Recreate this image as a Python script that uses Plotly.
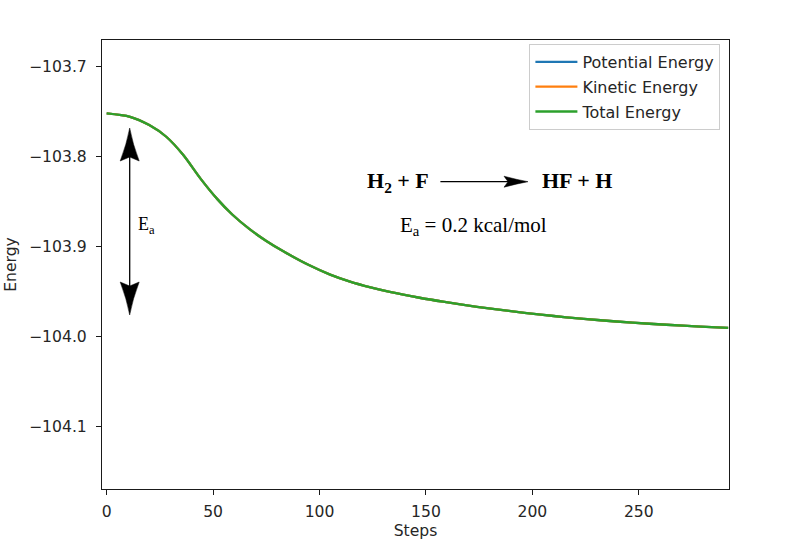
import plotly.graph_objects as go

# ---- data ----
steps = [0, 11, 20, 28, 36, 44, 52, 59, 67, 75, 83, 95, 105, 114, 124, 133, 147,
         158, 174, 189, 204, 216, 232, 247, 263, 279, 292]
total_energy = [-103.7518, -103.7556, -103.7648, -103.7778, -103.7981, -103.8240,
                -103.8471, -103.8642, -103.8802, -103.8936, -103.9051, -103.9204,
                -103.9310, -103.9385, -103.9452, -103.9502, -103.9567, -103.9611,
                -103.9668, -103.9714, -103.9754, -103.9784, -103.9817, -103.9844,
                -103.9867, -103.9887, -103.9901]
# potential and kinetic traces are completely hidden under the total-energy curve
potential_energy = total_energy
kinetic_energy = total_energy
series_names = ["Potential Energy", "Kinetic Energy", "Total Energy"]
series_colors = ["#1f77b4", "#ff7f0e", "#2ca02c"]
x_ticks = [0, 50, 100, 150, 200, 250]
y_ticks = [-104.1, -104.0, -103.9, -103.8, -103.7]

W, H = 800, 545
L, R, T, B = 102.3, 729.3, 40, 489


def px(x):
    return (x - L) / (R - L)


def py(y):
    return (B - y) / (B - T)


fig = go.Figure()
for name, vals, col in zip(series_names, [potential_energy, kinetic_energy, total_energy], series_colors):
    fig.add_trace(go.Scatter(x=steps, y=vals, mode="lines", name=name, legendgroup=name,
                             line=dict(color=col, width=2.3, shape="spline", smoothing=0.8)))

tick_font = dict(family="DejaVu Sans", size=15.6, color="#262626")
axis_common = dict(showline=True, linecolor="#1a1a1a", linewidth=1.2, mirror=True,
                   ticks="outside", ticklen=5, tickwidth=1.1, tickcolor="#1a1a1a",
                   showgrid=False, zeroline=False, tickfont=tick_font, automargin=False)

fig.update_layout(
    width=W, height=H,
    margin=dict(l=L, r=W - R, t=T, b=H - B),
    paper_bgcolor="white", plot_bgcolor="white",
    xaxis=dict(range=[-2.2, 292.4], tickvals=x_ticks, ticklabelstandoff=3,
               title=dict(text="Steps", font=tick_font, standoff=5), **axis_common),
    yaxis=dict(range=[-104.1692, -103.6703], tickvals=y_ticks, tickformat=".1f",
               ticklabelstandoff=6,
               title=dict(text="Energy", font=tick_font, standoff=8), **axis_common),
    legend=dict(x=px(720.7), xanchor="right", y=py(44), yanchor="top",
                bgcolor="white", bordercolor="#cccccc", borderwidth=1,
                font=dict(family="DejaVu Sans", size=16, color="#262626"),
                tracegroupgap=1, itemwidth=42),
    showlegend=True,
)

serif = "Liberation Serif"
ann_common = dict(xref="paper", yref="paper", showarrow=False, xanchor="center", yanchor="middle")
# text annotations
fig.add_annotation(x=px(398), y=py(182), text="<b>H<sub>2</sub> + F</b>",
                   font=dict(family=serif, size=22, color="black"), **ann_common)
fig.add_annotation(x=px(577), y=py(180), text="<b>HF + H</b>",
                   font=dict(family=serif, size=22, color="black"), **ann_common)
fig.add_annotation(x=px(474), y=py(226), text="E<sub>a</sub> = 0.2 kcal/mol",
                   font=dict(family=serif, size=21, color="black"), **ann_common)
fig.add_annotation(x=px(146.5), y=py(225), text="E<sub>a</sub>",
                   font=dict(family=serif, size=18, color="black"), **ann_common)

# double arrow (E_a)
ax_x = px(130)
fig.add_shape(type="line", xref="paper", yref="paper", x0=ax_x, x1=ax_x,
              y0=py(150), y1=py(293), line=dict(color="black", width=1.3))
up_head = "M 0,0 Q 3,-16 9.5,-33 L 0,-29 L -9.5,-33 Q -3,-16 0,0 Z"
down_head = "M 0,0 Q 3,16 9.5,33 L 0,29 L -9.5,33 Q -3,16 0,0 Z"
fig.add_shape(type="path", xref="paper", yref="paper", xsizemode="pixel", ysizemode="pixel",
              xanchor=ax_x, yanchor=py(128), path=up_head,
              fillcolor="black", line=dict(color="black", width=0.5))
fig.add_shape(type="path", xref="paper", yref="paper", xsizemode="pixel", ysizemode="pixel",
              xanchor=ax_x, yanchor=py(315), path=down_head,
              fillcolor="black", line=dict(color="black", width=0.5))

# reaction arrow
ry = py(181.7)
fig.add_shape(type="line", xref="paper", yref="paper", x0=px(440.7), x1=px(512),
              y0=ry, y1=ry, line=dict(color="black", width=1.3))
right_head = "M 0,0 Q -11,2 -24,5.5 L -20,0 L -24,-5.5 Q -11,-2 0,0 Z"
fig.add_shape(type="path", xref="paper", yref="paper", xsizemode="pixel", ysizemode="pixel",
              xanchor=px(528.3), yanchor=ry, path=right_head,
              fillcolor="black", line=dict(color="black", width=0.5))

fig.write_html("out.html")
